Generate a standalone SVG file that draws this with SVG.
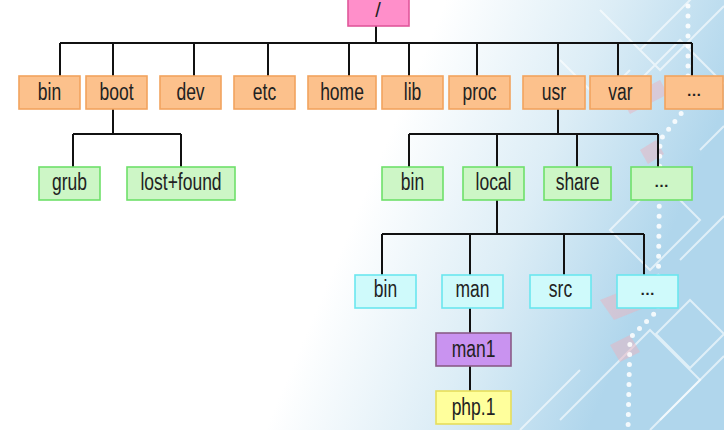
<svg xmlns="http://www.w3.org/2000/svg" width="724" height="430" viewBox="0 0 724 430">
<style>
.bg-line{fill:none;stroke:#ffffff;stroke-width:2;opacity:0.6}
.pink{fill:#eab3c0;opacity:0.5}
.conn{fill:none;stroke:#111;stroke-width:2}
.box rect{stroke-width:1.6}
.o rect{fill:#fcc18c;stroke:#f2a35e}
.g rect{fill:#cdf6c6;stroke:#6ee06a}
.c rect{fill:#cffafb;stroke:#6ae6ef}
.p rect{fill:#c993f0;stroke:#8a5c88}
.y rect{fill:#ffff9c;stroke:#e6de5c}
.r rect{fill:#ff8fca;stroke:#e0579a}
text{font-family:"Liberation Sans",Arial,sans-serif;font-size:17.5px;fill:#222;text-anchor:middle}
.dots{font-weight:bold;font-size:15px}
</style>
<defs>
<linearGradient id="bgGrad" x1="0" y1="0" x2="1" y2="0.25">
<stop offset="0.58" stop-color="#ffffff"/>
<stop offset="0.8" stop-color="#dcedf6"/>
<stop offset="1" stop-color="#b0d6ec"/>
</linearGradient>
</defs>
<g id="background">
<rect x="0" y="0" width="724" height="430" fill="url(#bgGrad)"/>
<path class="bg-line" d="M600 10 L640 50 L700 -10 M620 30 L660 70 L724 6 M640 80 L680 40 L724 84 M560 60 L600 100 L630 70"/>
<path class="bg-line" d="M610 230 L660 180 L700 220 L650 270 Z M680 260 L724 216 M600 380 L650 330 L700 380 L650 430 M690 300 L724 334 L690 368 L656 334 Z"/>
<path class="bg-line" d="M560 420 L600 380 M520 430 L580 370 M700 150 L724 126 M660 420 L724 356"/>
<path class="pink" d="M622 100 L660 80 L668 94 L630 114 Z M640 150 L656 140 L664 154 L648 164 Z M600 300 L650 280 L664 300 L614 320 Z M610 345 L630 335 L640 352 L620 362 Z"/>
<polyline points="688,6 688,105 660,140 658,310 630,338 628,430" fill="none" stroke="#ffffff" stroke-width="5" stroke-linecap="round" stroke-dasharray="0 10" opacity="0.85"/>
</g>
<g id="connectors">
<path class="conn" d="M376 26 V43 M60 43 H692 M60 43 V76 M113 43 V76 M194 43 V76 M268 43 V76 M349 43 V76 M409 43 V76 M477 43 V76 M558 43 V76 M618 43 V76 M692 43 V76"/>
<path class="conn" d="M113 109 V134 M73 134 H181 M73 134 V167 M181 134 V167"/>
<path class="conn" d="M558 109 V134 M409 134 H658 M409 134 V167 M497 134 V167 M577 134 V167 M658 134 V167"/>
<path class="conn" d="M497 200 V234 M382 234 H644 M382 234 V275 M470 234 V275 M564 234 V275 M644 234 V275"/>
<path class="conn" d="M470 308 V333 M470 366 V391"/>
</g>
<g id="root" class="box r"><rect x="348" y="-4" width="61" height="30"/><text x="378" y="17" style="font-size:20px">/</text></g>
<g id="bin" class="box o"><rect x="19" y="76" width="61" height="33"/><text transform="translate(49.5,100) scale(1,1.35)">bin</text></g>
<g id="boot" class="box o"><rect x="86" y="76" width="61" height="33"/><text transform="translate(116.5,100) scale(1,1.35)">boot</text></g>
<g id="dev" class="box o"><rect x="160" y="76" width="61" height="33"/><text transform="translate(190.5,100) scale(1,1.35)">dev</text></g>
<g id="etc" class="box o"><rect x="234" y="76" width="61" height="33"/><text transform="translate(264.5,100) scale(1,1.35)">etc</text></g>
<g id="home" class="box o"><rect x="308" y="76" width="68" height="33"/><text transform="translate(342,100) scale(1,1.35)">home</text></g>
<g id="lib" class="box o"><rect x="382" y="76" width="61" height="33"/><text transform="translate(412.5,100) scale(1,1.35)">lib</text></g>
<g id="proc" class="box o"><rect x="449" y="76" width="61" height="33"/><text transform="translate(479.5,100) scale(1,1.35)">proc</text></g>
<g id="usr" class="box o"><rect x="523" y="76" width="62" height="33"/><text transform="translate(554,100) scale(1,1.35)">usr</text></g>
<g id="var" class="box o"><rect x="590" y="76" width="61" height="33"/><text transform="translate(620.5,100) scale(1,1.35)">var</text></g>
<g id="more1" class="box o"><rect x="665" y="76" width="58" height="33"/><text class="dots" x="694" y="96">…</text></g>
<g id="grub" class="box g"><rect x="39" y="167" width="61" height="33"/><text transform="translate(69.5,190) scale(1,1.35)">grub</text></g>
<g id="lostfound" class="box g"><rect x="127" y="167" width="108" height="33"/><text transform="translate(181,190) scale(1,1.35)">lost+found</text></g>
<g id="usr-bin" class="box g"><rect x="382" y="167" width="61" height="33"/><text transform="translate(412.5,190) scale(1,1.35)">bin</text></g>
<g id="local" class="box g"><rect x="463" y="167" width="61" height="33"/><text transform="translate(493.5,190) scale(1,1.35)">local</text></g>
<g id="share" class="box g"><rect x="544" y="167" width="67" height="33"/><text transform="translate(577.5,190) scale(1,1.35)">share</text></g>
<g id="more2" class="box g"><rect x="631" y="167" width="61" height="33"/><text class="dots" x="661.5" y="187">…</text></g>
<g id="local-bin" class="box c"><rect x="355" y="275" width="61" height="33"/><text transform="translate(385.5,297) scale(1,1.35)">bin</text></g>
<g id="man" class="box c"><rect x="442" y="275" width="61" height="33"/><text transform="translate(472.5,297) scale(1,1.35)">man</text></g>
<g id="src" class="box c"><rect x="530" y="275" width="61" height="33"/><text transform="translate(560.5,297) scale(1,1.35)">src</text></g>
<g id="more3" class="box c"><rect x="617" y="275" width="61" height="33"/><text class="dots" x="647.5" y="295">…</text></g>
<g id="man1" class="box p"><rect x="436" y="333" width="75" height="33"/><text transform="translate(473.5,357) scale(1,1.35)">man1</text></g>
<g id="php1" class="box y"><rect x="436" y="391" width="75" height="33"/><text transform="translate(473.5,415) scale(1,1.35)">php.1</text></g>
</svg>
